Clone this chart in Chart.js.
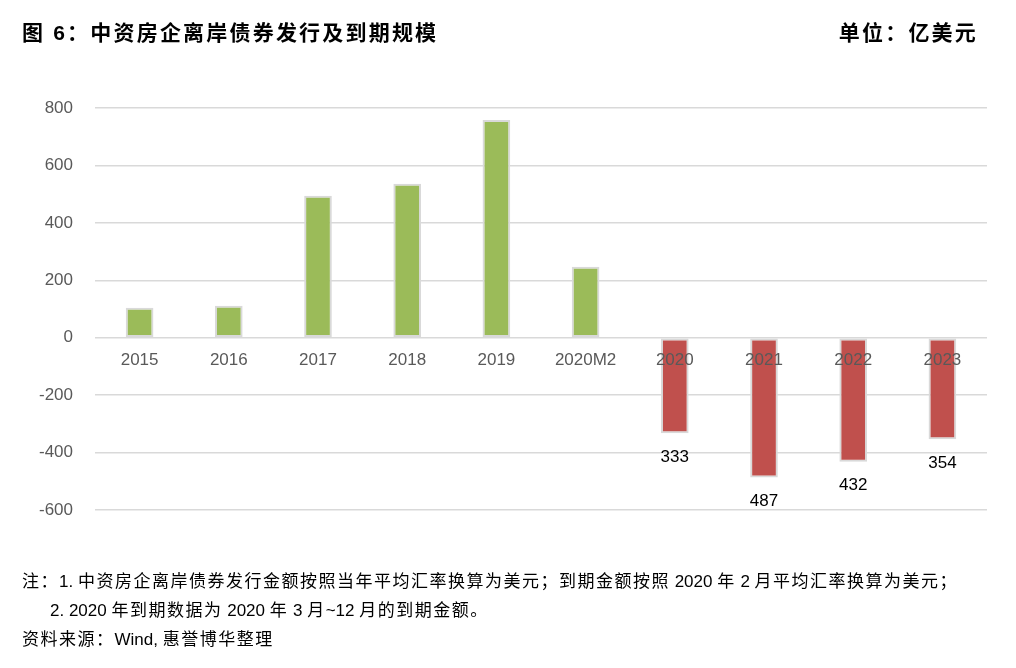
<!DOCTYPE html>
<html>
<head>
<meta charset="utf-8">
<script src="https://cdn.jsdelivr.net/npm/chart.js@4"></script>
<style>
  html,body{margin:0;padding:0;background:#fff;}
  body{width:1016px;height:668px;position:relative;overflow:hidden;font-family:"Liberation Sans","Noto Sans CJK SC",sans-serif;}
  #wrap{position:absolute;left:0;top:0;width:1016px;height:668px;}
  .t{position:absolute;white-space:nowrap;color:#000;}
  #title{left:22px;top:16px;font-size:21px;font-weight:bold;letter-spacing:2.2px;}
  #unit{right:38px;top:16px;font-size:21px;font-weight:bold;letter-spacing:2.2px;}
  .note{font-size:17px;letter-spacing:1.5px;line-height:22px;}
  .note span{letter-spacing:0;}
</style>
</head>
<body>
<div id="wrap"><canvas id="c" width="1016" height="668"></canvas></div>
<div class="t" id="title">图 6：中资房企离岸债券发行及到期规模</div>
<div class="t" id="unit">单位：亿美元</div>
<div class="t note" style="left:22px;top:571px;">注：<span>1. </span>中资房企离岸债券发行金额按照当年平均汇率换算为美元；到期金额按照<span> 2020 </span>年<span> 2 </span>月平均汇率换算为美元；</div>
<div class="t note" style="left:50px;top:600px;"><span>2. 2020 </span>年到期数据为<span> 2020 </span>年<span> 3 </span>月<span>~12 </span>月的到期金额。</div>
<div class="t note" style="left:22px;top:629px;">资料来源：<span>Wind, </span>惠誉博华整理</div>
<script>
const categories = ["2015","2016","2017","2018","2019","2020M2","2020","2021","2022","2023"];
const values = [104, 111, 494, 536, 758, 247, -333, -487, -432, -354];
const yTicks = [-600, -400, -200, 0, 200, 400, 600, 800];

const barColors = values.map(v => v >= 0 ? "#9bbb59" : "#c0504d");

const overlay = {
  id: "overlay",
  afterDatasetsDraw(chart) {
    const ctx = chart.ctx;
    const x = chart.scales.x, y = chart.scales.y;
    const meta = chart.getDatasetMeta(0);
    ctx.save();
    ctx.font = '17px "Liberation Sans", sans-serif';
    ctx.textAlign = "center";
    ctx.textBaseline = "middle";
    ctx.fillStyle = "#595959";
    categories.forEach((c, i) => {
      ctx.fillText(c, x.getPixelForValue(i), y.getPixelForValue(0) + 23);
    });
    ctx.fillStyle = "#000";
    meta.data.forEach((bar, i) => {
      if (values[i] < 0) {
        ctx.fillText(String(Math.abs(values[i])), bar.x, bar.y + 24);
      }
    });
    ctx.restore();
  }
};

new Chart(document.getElementById("c"), {
  type: "bar",
  data: {
    labels: categories,
    datasets: [{
      data: values,
      backgroundColor: barColors,
      borderColor: "#d9d9d9",
      borderWidth: 2,
      borderSkipped: false,
      barPercentage: 0.62,
      categoryPercentage: 0.5
    }]
  },
  options: {
    responsive: false,
    animation: false,
    layout: { padding: { left: 0, top: 108, right: 29, bottom: 158 } },
    plugins: { legend: { display: false }, tooltip: { enabled: false } },
    scales: {
      x: { display: false },
      y: {
        min: -600, max: 800,
        afterFit(s) { s.width = 95; },
        afterBuildTicks(s) { s.ticks = yTicks.map(v => ({ value: v })); },
        grid: { color: "#d9d9d9", lineWidth: 1.5, drawTicks: false },
        border: { display: false },
        ticks: {
          padding: 22,
          color: "#595959",
          font: { family: '"Liberation Sans", sans-serif', size: 17 }
        }
      }
    }
  },
  plugins: [overlay]
});
</script>
</body>
</html>
